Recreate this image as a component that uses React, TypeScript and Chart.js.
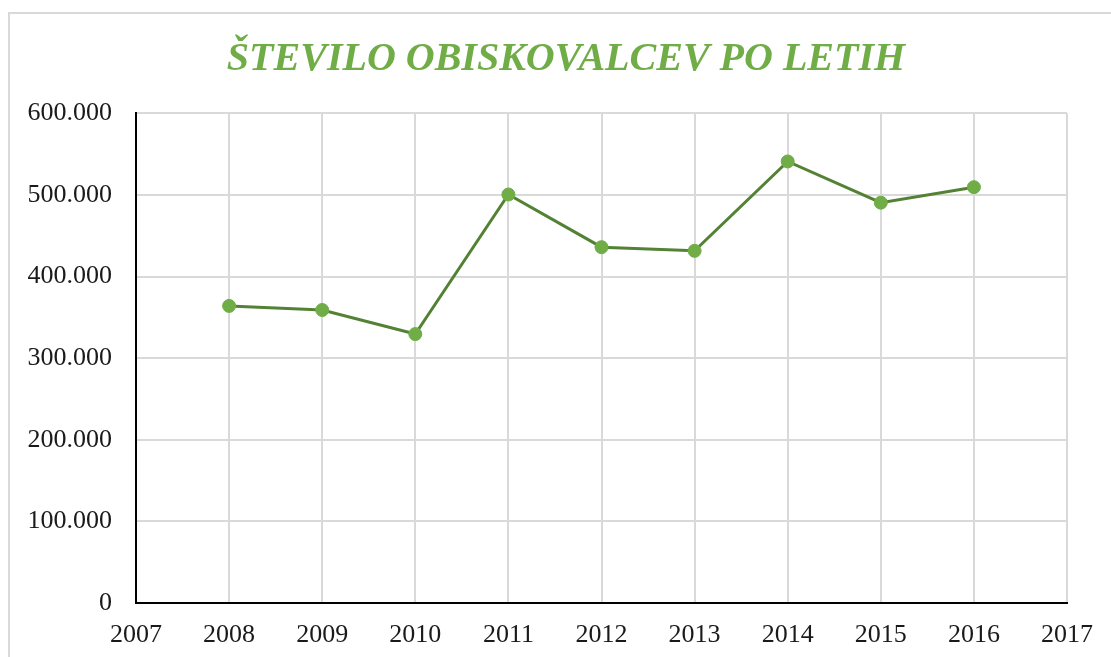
import React, { useEffect, useRef } from "react";
import { Chart, registerables } from "chart.js";

Chart.register(...registerables);

const years = [2008, 2009, 2010, 2011, 2012, 2013, 2014, 2015, 2016];
const visitors = [364000, 359000, 329500, 500500, 436000, 431500, 541000, 490500, 509500];
const titleText = "ŠTEVILO OBISKOVALCEV PO LETIH";
const xMin = 2007;
const xMax = 2017;
const yMax = 600000;
const yStep = 100000;

const fmt = (v: number) =>
  v === 0 ? "0" : String(Math.round(v)).replace(/\B(?=(\d{3})+(?!\d))/g, ".");

const W = 1111;
const H = 657;
const serif = "'Liberation Serif', 'Times New Roman', serif";

const framePlugin = {
  id: "frame",
  beforeDraw(chart: any) {
    const ctx = chart.ctx;
    ctx.save();
    ctx.fillStyle = "#ffffff";
    ctx.fillRect(0, 0, chart.width, chart.height);
    ctx.strokeStyle = "#d9d9d9";
    ctx.lineWidth = 2;
    ctx.strokeRect(9, 13, chart.width + 20, chart.height + 20);
    ctx.restore();
  },
};

const titlePlugin = {
  id: "centeredTitle",
  afterDraw(chart: any) {
    const ctx = chart.ctx;
    ctx.save();
    ctx.fillStyle = "#70AD47";
    ctx.font = `italic bold 40px ${serif}`;
    ctx.textAlign = "center";
    ctx.textBaseline = "alphabetic";
    ctx.fillText(titleText, 566, 70);
    ctx.restore();
  },
};

export default function App() {
  const ref = useRef<HTMLCanvasElement>(null);
  useEffect(() => {
    document.body.style.margin = "0";
    document.body.style.overflow = "hidden";
    const chart = new Chart(ref.current!, {
      type: "line",
      data: {
        datasets: [
          {
            data: years.map((y, i) => ({ x: y, y: visitors[i] })),
            borderColor: "#548235",
            borderWidth: 3,
            pointBackgroundColor: "#70AD47",
            pointBorderColor: "#70AD47",
            pointBorderWidth: 1,
            pointRadius: 6.5,
            tension: 0,
          },
        ],
      },
      options: {
        animation: false,
        responsive: false,
        layout: { padding: { left: 0, right: 44, top: 113.3, bottom: 0 } },
        plugins: {
          legend: { display: false },
          tooltip: { enabled: false },
          title: { display: false },
        },
        scales: {
          x: {
            type: "linear",
            min: xMin,
            max: xMax,
            afterFit: (s: any) => { s.height = 54; },
            ticks: {
              stepSize: 1,
              color: "#1a1a1a",
              padding: 17,
              font: { family: serif, size: 26 },
              callback: (v: any) => String(v),
              maxRotation: 0,
            },
            grid: { color: "#d9d9d9", lineWidth: 2, drawTicks: false },
            border: { color: "#000000", width: 2 },
          },
          y: {
            min: 0,
            max: yMax,
            afterFit: (s: any) => { s.width = 136; },
            ticks: {
              stepSize: yStep,
              color: "#1a1a1a",
              padding: 24,
              font: { family: serif, size: 26 },
              callback: (v: any) => fmt(Number(v)),
            },
            grid: { color: "#d9d9d9", lineWidth: 2, drawTicks: false },
            border: { color: "#000000", width: 2 },
          },
        },
      },
      plugins: [framePlugin, titlePlugin],
    } as any);
    return () => chart.destroy();
  }, []);
  return (
    <div style={{ position: "fixed", left: 0, top: 0, width: W, height: H, overflow: "hidden" }}>
      <canvas ref={ref} width={W} height={H} style={{ width: W, height: H, display: "block" }} />
    </div>
  );
}
